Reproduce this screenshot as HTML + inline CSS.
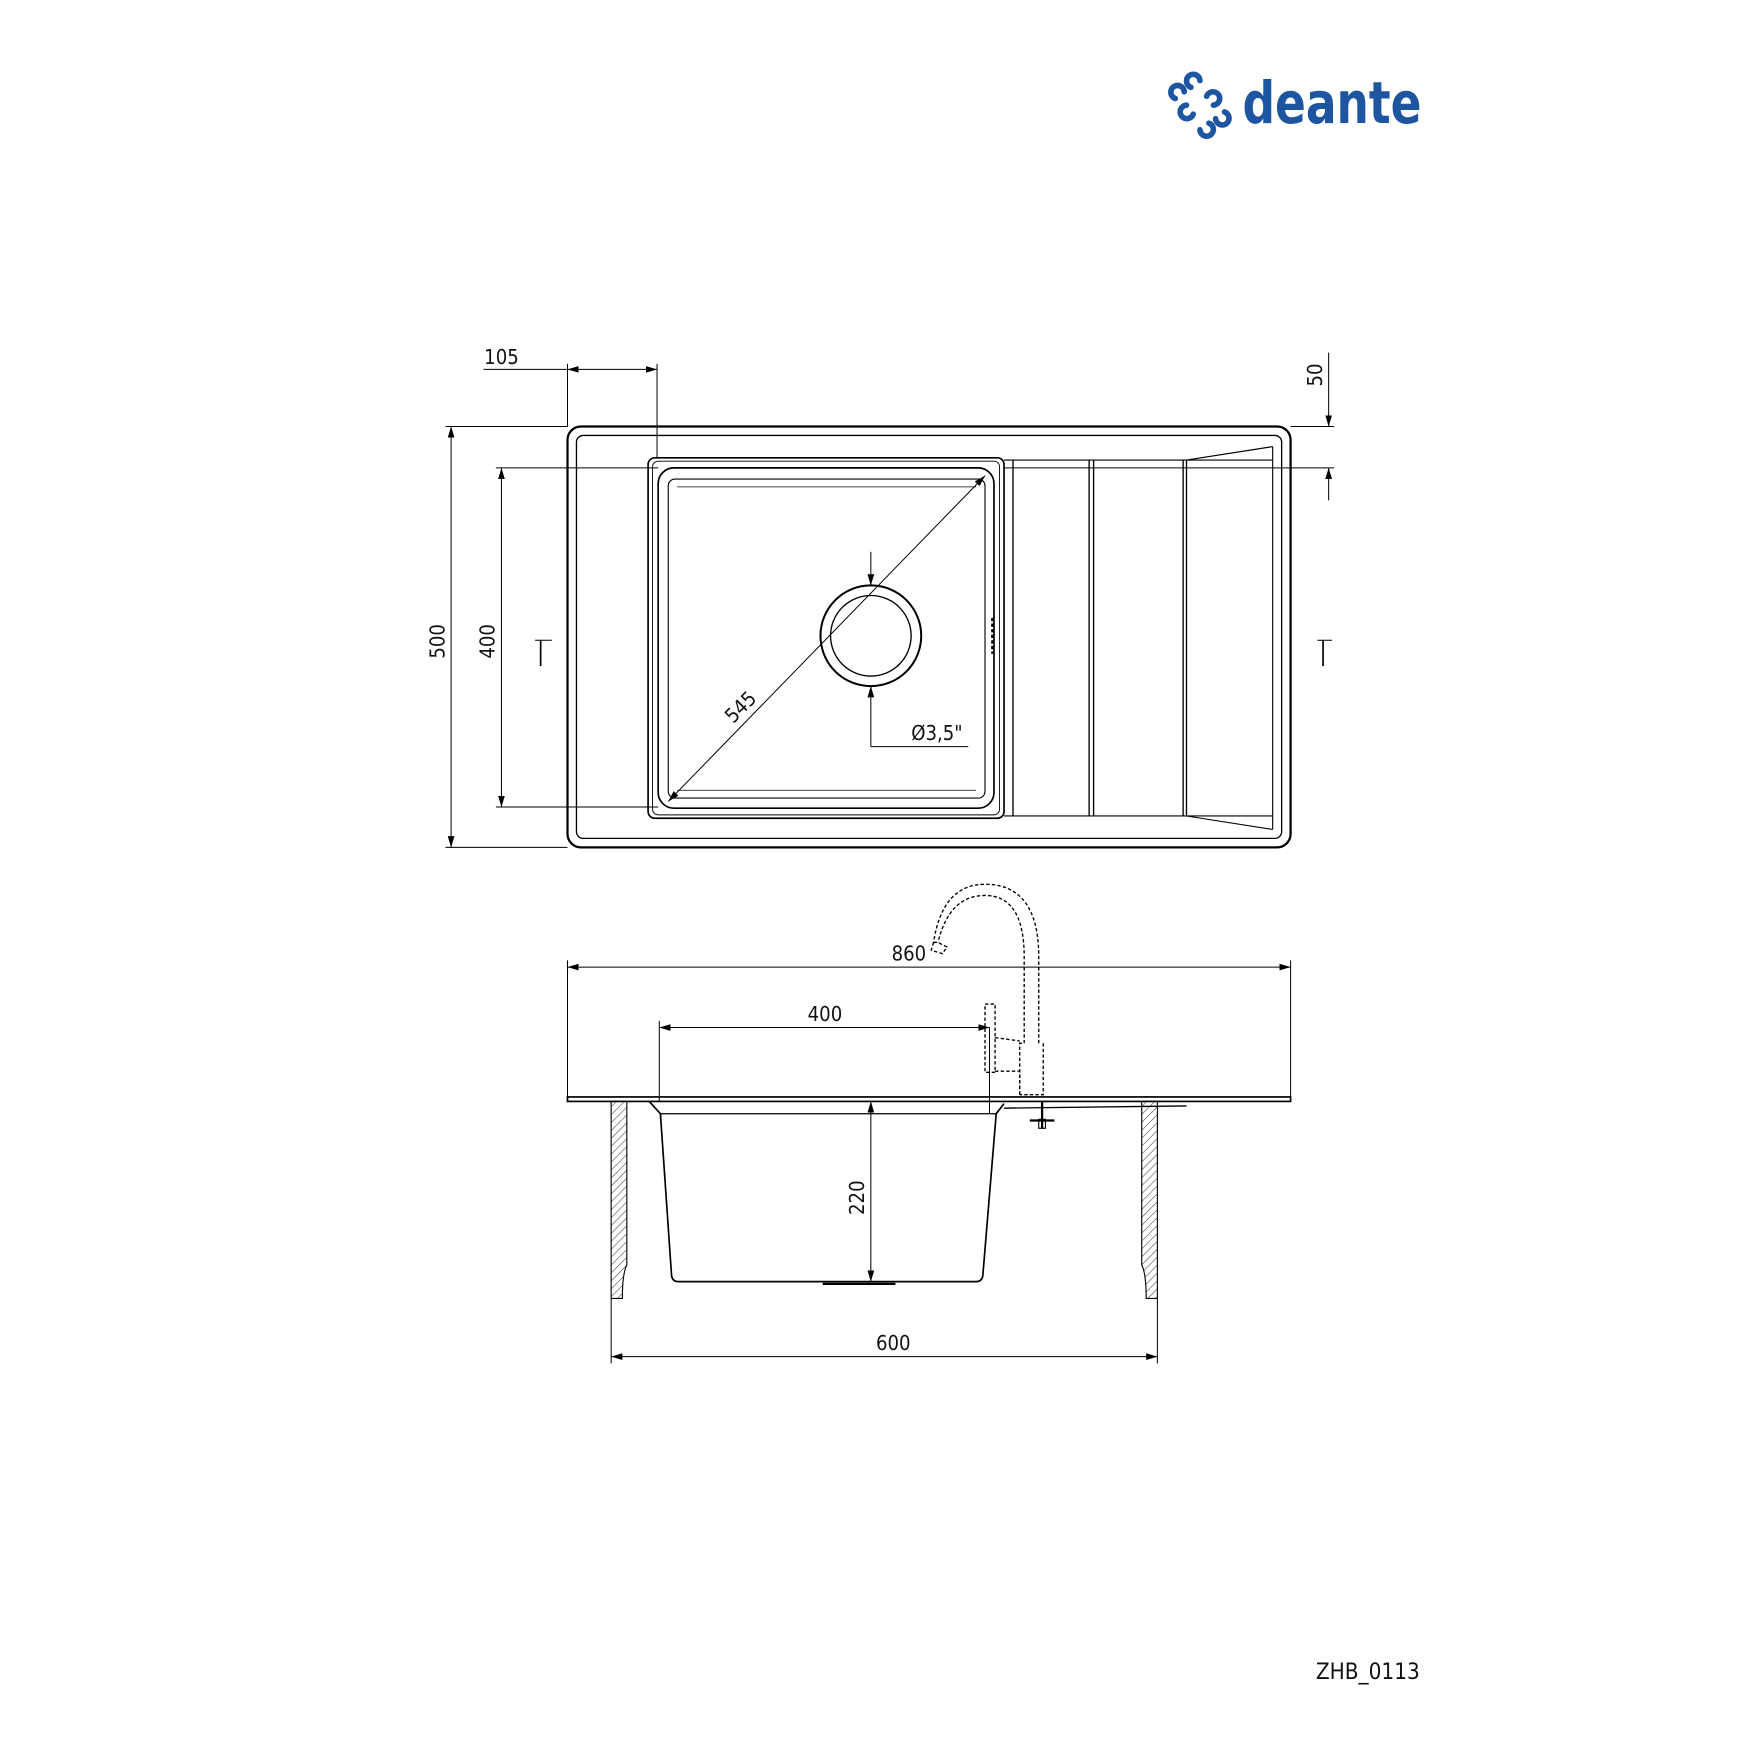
<!DOCTYPE html>
<html><head><meta charset="utf-8"><style>
html,body{margin:0;padding:0;background:#fff}
svg{display:block}
text{font-family:"DejaVu Sans Condensed","Liberation Sans",sans-serif;fill:#111}
</style></head><body>
<svg width="1754" height="1754" viewBox="0 0 1567 1567" xmlns="http://www.w3.org/2000/svg">
<defs>
<marker id="a" viewBox="0 0 10 10" refX="10" refY="5" markerWidth="10" markerHeight="10" markerUnits="userSpaceOnUse" orient="auto-start-reverse"><path d="M0,2 L10,5 L0,8 Z" fill="#000"/></marker>
<pattern id="h" width="5" height="5" patternUnits="userSpaceOnUse" patternTransform="rotate(45)"><line x1="0" y1="0" x2="0" y2="5" stroke="#444" stroke-width="1"/></pattern>
</defs>

<!-- logo -->
<g fill="#1e55a0">
<g transform="translate(1072,94)">
<path d="M-22,-6 a6,6 0 1 1 8,-6" fill="none" stroke="#1e55a0" stroke-width="5" stroke-linecap="round"/>
<path d="M-8,-16 a6,6 0 1 1 8,-6" fill="none" stroke="#1e55a0" stroke-width="5" stroke-linecap="round"/>
<path d="M22,6 a6,6 0 1 1 -8,6" fill="none" stroke="#1e55a0" stroke-width="5" stroke-linecap="round"/>
<path d="M8,16 a6,6 0 1 1 -8,6" fill="none" stroke="#1e55a0" stroke-width="5" stroke-linecap="round"/>
<path d="M-6,8 a6,6 0 1 1 -6,-8" fill="none" stroke="#1e55a0" stroke-width="5" stroke-linecap="round"/>
<path d="M6,-8 a6,6 0 1 1 6,8" fill="none" stroke="#1e55a0" stroke-width="5" stroke-linecap="round"/>
</g>
<text x="1110" y="110" font-size="52" font-weight="bold" textLength="160" lengthAdjust="spacingAndGlyphs" style="fill:#1e55a0;font-family:'DejaVu Sans Condensed','Liberation Sans',sans-serif">deante</text>
</g>

<g fill="none" stroke="#000">
<!-- top view -->
<rect x="507" y="381" width="646" height="376" rx="12" stroke-width="2"/>
<rect x="515" y="389" width="630" height="360" rx="6" stroke-width="1.2"/>
<rect x="579" y="409" width="318" height="322" rx="6" stroke-width="1.5"/>
<rect x="583" y="412" width="310" height="316" rx="5" stroke-width="0.8"/>
<rect x="588" y="418" width="300" height="304" rx="14" stroke-width="1.5"/>
<rect x="597" y="428" width="283" height="285" rx="6" stroke-width="1"/>
<line x1="605" y1="435" x2="872" y2="435" stroke-width="0.7"/>
<line x1="605" y1="706" x2="872" y2="706" stroke-width="0.7"/>
<circle cx="778" cy="568" r="45" stroke-width="1.8"/>
<circle cx="778" cy="568" r="36" stroke-width="1.2"/>
<line x1="905" y1="411" x2="905" y2="729" stroke-width="1.2"/>
<line x1="973" y1="411" x2="973" y2="729" stroke-width="1.2"/>
<line x1="977" y1="411" x2="977" y2="729" stroke-width="1.2"/>
<line x1="1057" y1="411" x2="1057" y2="729" stroke-width="1.2"/>
<line x1="1060" y1="411" x2="1060" y2="729" stroke-width="1.2"/>
<line x1="897" y1="411" x2="1137" y2="411" stroke-width="1"/>
<line x1="897" y1="729" x2="1137" y2="729" stroke-width="1"/>
<line x1="1060" y1="411" x2="1137" y2="399" stroke-width="1"/>
<line x1="1060" y1="729" x2="1137" y2="741" stroke-width="1"/>
<line x1="1137" y1="399" x2="1137" y2="741" stroke-width="1"/>
<line x1="887" y1="552" x2="887" y2="584" stroke-width="3" stroke-dasharray="3,2"/>

<!-- dims top -->
<g stroke-width="0.9">
<line x1="507" y1="325" x2="507" y2="381"/>
<line x1="587" y1="325" x2="587" y2="409"/>
<line x1="432" y1="330" x2="507" y2="330"/>
<line x1="507" y1="330" x2="587" y2="330" marker-start="url(#a)" marker-end="url(#a)"/>
<line x1="1153" y1="381" x2="1192" y2="381"/>
<line x1="897" y1="418" x2="1192" y2="418"/>
<line x1="1187" y1="315" x2="1187" y2="381" marker-end="url(#a)"/>
<line x1="1187" y1="447" x2="1187" y2="418" marker-end="url(#a)"/>
<line x1="398" y1="381" x2="507" y2="381"/>
<line x1="398" y1="757" x2="507" y2="757"/>
<line x1="403" y1="381" x2="403" y2="757" marker-start="url(#a)" marker-end="url(#a)"/>
<line x1="443" y1="418" x2="588" y2="418"/>
<line x1="443" y1="721" x2="588" y2="721"/>
<line x1="448" y1="418" x2="448" y2="721" marker-start="url(#a)" marker-end="url(#a)"/>
<line x1="597" y1="716" x2="880" y2="425" marker-start="url(#a)" marker-end="url(#a)"/>
<line x1="778" y1="493" x2="778" y2="523" marker-end="url(#a)"/>
<line x1="778" y1="667" x2="778" y2="613" marker-end="url(#a)"/>
<line x1="778" y1="667" x2="865" y2="667"/>
<line x1="478" y1="572" x2="493" y2="572"/><line x1="483" y1="572" x2="483" y2="595" stroke-width="1.5"/>
<line x1="1177" y1="572" x2="1190" y2="572"/><line x1="1182" y1="572" x2="1182" y2="595" stroke-width="1.5"/>
</g>

<!-- side view -->
<rect x="507" y="980" width="646" height="4" stroke-width="1.5"/>
<path d="M580,984 L590,995 L600,1140 Q601,1145 606,1145 L872,1145 Q877,1145 878,1140 L890,995 L897,986" stroke-width="1.5"/>
<line x1="590" y1="995" x2="890" y2="995" stroke-width="1.2"/>
<line x1="897" y1="990" x2="1060" y2="988" stroke-width="1.2"/>
<line x1="735" y1="1147" x2="800" y2="1147" stroke-width="2"/>
<path d="M546,984 L560,984 L560,1130 Q556,1138 556,1160 L546,1160 Z" fill="url(#h)" stroke-width="1"/>
<path d="M1020,984 L1034,984 L1034,1160 L1024,1160 Q1024,1138 1020,1130 Z" fill="url(#h)" stroke-width="1"/>
<line x1="931" y1="984" x2="931" y2="1008" stroke-width="2"/>
<line x1="920" y1="1001" x2="942" y2="1001" stroke-width="2"/>
<rect x="928" y="1000" width="6" height="8" stroke-width="1"/>
<g stroke-width="1.2" stroke-dasharray="3,2">
<path d="M911,978 L911,932 L915,932 L915,855 Q915,800 880,800 Q848,800 838,842"/>
<path d="M928,932 L928,855 Q928,790 880,790 Q842,790 834,842"/>
<path d="M932,932 L932,978 L911,978"/>
<path d="M834,842 L838,842 L846,846 L842,852 L832,849 Z"/>
<rect x="880" y="897" width="9" height="61"/>
<path d="M889,927 L911,930 M889,957 L911,957 L911,978"/>
</g>
<g stroke-width="0.9">
<line x1="507" y1="858" x2="507" y2="980"/>
<line x1="1153" y1="858" x2="1153" y2="980"/>
<line x1="507" y1="864" x2="1153" y2="864" marker-start="url(#a)" marker-end="url(#a)"/>
<line x1="589" y1="912" x2="589" y2="984"/>
<line x1="589" y1="918" x2="884" y2="918" marker-start="url(#a)" marker-end="url(#a)"/>
<line x1="884" y1="918" x2="884" y2="995"/>
<line x1="778" y1="984" x2="778" y2="1145" marker-start="url(#a)" marker-end="url(#a)"/>
<line x1="546" y1="1160" x2="546" y2="1218"/>
<line x1="1034" y1="1160" x2="1034" y2="1218"/>
<line x1="546" y1="1212" x2="1034" y2="1212" marker-start="url(#a)" marker-end="url(#a)"/>
</g>
</g>

<g font-size="18">
<text x="448" y="325" text-anchor="middle">105</text>
<text transform="translate(1181,335) rotate(-90)" text-anchor="middle">50</text>
<text transform="translate(397,573) rotate(-90)" text-anchor="middle">500</text>
<text transform="translate(442,573) rotate(-90)" text-anchor="middle">400</text>
<text transform="translate(666,636) rotate(-45)" text-anchor="middle">545</text>
<text x="837" y="661" text-anchor="middle">Ø3,5"</text>
<text x="812" y="858" text-anchor="middle">860</text>
<text x="737" y="912" text-anchor="middle">400</text>
<text transform="translate(772,1070) rotate(-90)" text-anchor="middle">220</text>
<text x="798" y="1206" text-anchor="middle">600</text>
<text x="1222" y="1500" text-anchor="middle" font-size="20">ZHB_0113</text>
</g>
</svg>
</body></html>
